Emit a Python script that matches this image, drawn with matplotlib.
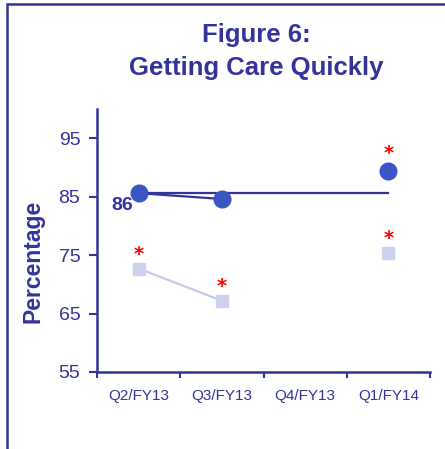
import matplotlib
matplotlib.use("Agg")
import matplotlib.pyplot as plt
from matplotlib.patches import Rectangle
import numpy as np

quarters = ["Q2/FY13", "Q3/FY13", "Q4/FY13", "Q1/FY14"]
facility = [85.6, 84.6, np.nan, 89.4]
comparison = [72.7, 67.2, np.nan, 75.4]
benchmark = 85.7
benchmark_label = "86"
star_facility = [False, False, False, True]
star_comparison = [True, True, False, True]

NAVY = "#333399"
DARK = "#3B55C3"
LIGHT = "#CBD1EE"
LIGHT_LINE = "#C3CAEA"

fig = plt.figure(figsize=(4.45, 4.49), dpi=100)
fig.patches.append(Rectangle((7 / 445, -0.1), 1.2, 1 - 4 / 449 + 0.1, transform=fig.transFigure,
                             fill=False, edgecolor=NAVY, linewidth=1.8))

fig.text(0.575, 0.921, "Figure 6:", ha="center", va="center", fontsize=18.5,
         fontweight="bold", color=NAVY, family="Liberation Sans")
fig.text(0.575, 0.849, "Getting Care Quickly", ha="center", va="center", fontsize=18.5,
         fontweight="bold", color=NAVY, family="Liberation Sans")

ax = fig.add_axes([97 / 445, 77 / 449, 333 / 445, 263 / 449])
x = np.arange(len(quarters))

ax.plot([x[0], x[-1]], [benchmark, benchmark], color=NAVY, linewidth=1.6, zorder=2)
ax.plot(x, facility, color=NAVY, linewidth=1.6, zorder=2)
ax.plot(x, facility, linestyle="none", marker="o", markersize=12, color=DARK, zorder=3)
ax.plot(x, comparison, color=LIGHT_LINE, linewidth=1.6, zorder=2)
ax.plot(x, comparison, linestyle="none", marker="s", markersize=8.5, color=LIGHT, zorder=3)

for xi, v, s in zip(x, facility, star_facility):
    if s:
        ax.annotate("*", xy=(xi, v), xytext=(0, 5.5), textcoords="offset points", ha="center",
                    va="bottom", color="#FF0000", fontsize=14, fontweight="bold")
for xi, v, s in zip(x, comparison, star_comparison):
    if s:
        ax.annotate("*", xy=(xi, v), xytext=(0, 3.5), textcoords="offset points", ha="center",
                    va="bottom", color="#FF0000", fontsize=14, fontweight="bold")

ax.annotate(benchmark_label, xy=(x[0], benchmark), xytext=(-11.5, -9.5), textcoords="offset points",
            ha="center", va="center", fontsize=14, fontweight="bold", color=NAVY,
            family="Liberation Sans")

ax.set_xlim(-0.5, 3.5)
ax.set_ylim(55, 100)
ax.set_yticks([55, 65, 75, 85, 95])
ax.set_xticks(x)
ax.set_xticklabels(quarters)
ax.set_xticks(np.arange(-0.5, 4, 1), minor=True)
ax.tick_params(axis="x", which="major", length=0, pad=12, labelsize=11, labelcolor=NAVY)
ax.tick_params(axis="x", which="minor", length=4, width=1.5, color=NAVY, direction="out")
ax.tick_params(axis="y", length=6, width=1.5, color=NAVY, labelsize=14, labelcolor=NAVY, pad=6)
for lab in ax.get_xticklabels() + ax.get_yticklabels():
    lab.set_family("Liberation Sans")

for side in ["top", "right"]:
    ax.spines[side].set_visible(False)
for side in ["left", "bottom"]:
    ax.spines[side].set_color(NAVY)
    ax.spines[side].set_linewidth(1.8)

ax.set_ylabel("Percentage", fontsize=16.5, fontweight="bold", color=NAVY,
              family="Liberation Sans", va="center")
ax.yaxis.set_label_coords(-0.192, 0.422)

fig.savefig("out.png", dpi=100)
